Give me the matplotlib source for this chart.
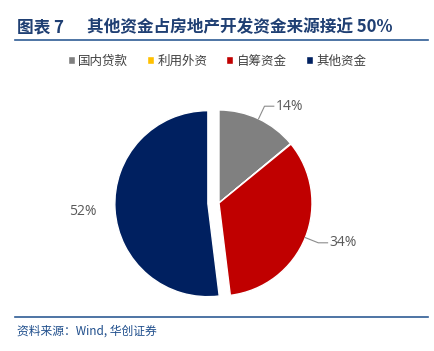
import numpy as np
import matplotlib
matplotlib.use("Agg")
import matplotlib.pyplot as plt
from matplotlib.lines import Line2D

plt.rcParams['font.family'] = ['Noto Sans CJK SC', 'DejaVu Sans']

categories = ["国内贷款", "利用外资", "自筹资金", "其他资金"]
shares = [14, 0.1, 34, 52]
pct_labels = ["14%", "", "34%", "52%"]
colors = ["#808080", "#FFC000", "#C00000", "#002060"]
explode = [0, 0, 0, 0.12]

W, H = 434, 351
fig = plt.figure(figsize=(W / 100, H / 100), dpi=100)

# title + rule
fig.text(17 / W, 1 - 27 / H, "图表 7", fontsize=12, fontweight="bold",
         color="#1F3F73", va="center", ha="left")
fig.text(87 / W, 1 - 27 / H, "其他资金占房地产开发资金来源接近 50%",
         fontsize=12, fontweight="bold", color="#1F3F73", va="center", ha="left")
fig.add_artist(Line2D([15 / W, 428 / W], [1 - 40 / H, 1 - 40 / H], color="#2F5C95", lw=1.2))

# pie
cx, cy, r = 219, 203, 93
half = r * 1.4
ax = fig.add_axes([(cx - half) / W, (H - cy - half) / H, 2 * half / W, 2 * half / H])
wedges, _ = ax.pie(shares, colors=colors, startangle=90, counterclock=False,
                   explode=explode, wedgeprops=dict(edgecolor="white", linewidth=1))
ax.set_xlim(-1.4, 1.4)
ax.set_ylim(-1.4, 1.4)
ax.axis("off")

for w, lab, ex in zip(wedges, pct_labels, explode):
    if not lab:
        continue
    ang = np.deg2rad((w.theta1 + w.theta2) / 2)
    ux, uy = np.cos(ang), np.sin(ang)
    ox, oy = ex * ux, ex * uy
    if ex > 0:
        ax.text(ox + 1.35 * ux, oy + 1.35 * uy, lab, ha="center", va="center",
                fontsize=10, color="#595959", family=["Open Sans", "DejaVu Sans"])
        continue
    p0 = (1.0 * ux, 1.0 * uy)
    p1 = (1.15 * ux, 1.15 * uy)
    side = 1 if ux > 0 else -1
    p2 = (p1[0] + side * 0.1, p1[1])
    ax.plot([p0[0], p1[0], p2[0]], [p0[1], p1[1], p2[1]], color="#8C8C8C", lw=0.8)
    ax.text(p2[0] + side * 0.02, p2[1], lab, ha="left" if side > 0 else "right",
            va="center", fontsize=10, color="#595959", family=["Open Sans", "DejaVu Sans"])

fig.legend(wedges, categories, loc="center", bbox_to_anchor=(0.5, 1 - 61 / H), ncol=4,
           frameon=False, fontsize=9, handlelength=0.55, handleheight=0.55,
           handletextpad=0.3, columnspacing=1.5, labelcolor="#404040")

# source
fig.add_artist(Line2D([15 / W, 428 / W], [1 - 317 / H, 1 - 317 / H], color="#2F5C95", lw=1.2))
fig.text(17 / W, 1 - 331 / H, "资料来源：Wind, 华创证券", fontsize=8.5, style="italic",
         color="#1F4E8C", va="center", ha="left")

fig.savefig("out.png", dpi=100)
